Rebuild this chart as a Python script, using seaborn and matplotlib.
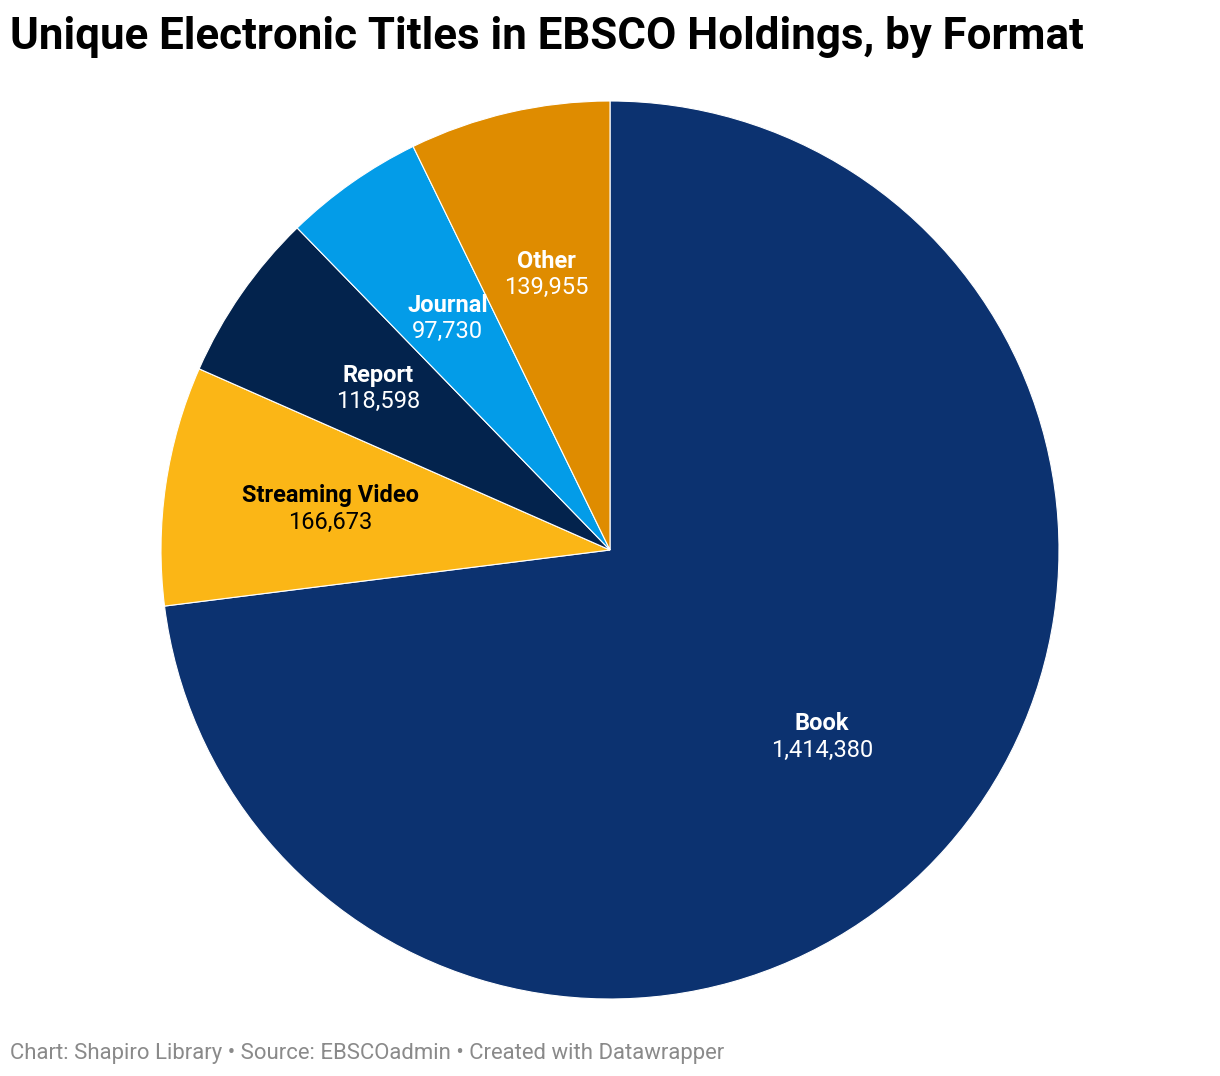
import matplotlib
matplotlib.use("Agg")
import matplotlib.pyplot as plt
import seaborn as sns
import numpy as np

categories = ["Book", "Streaming Video", "Report", "Journal", "Other"]
values = [1414380, 166673, 118598, 97730, 139955]
colors = ["#0c3270", "#fbb616", "#03234d", "#039ce8", "#df8c00"]
label_colors = ["white", "black", "white", "white", "white"]

sns.set_theme(style="white")
plt.rcParams['font.family'] = ['Roboto', 'DejaVu Sans']

W, H = 1220, 1076
fig = plt.figure(figsize=(W / 100, H / 100), dpi=100)
fig.patch.set_facecolor("white")

cx, cy, r = 610, 550, 449
ax = fig.add_axes([(cx - r) / W, (H - cy - r) / H, 2 * r / W, 2 * r / H])
wedges, _ = ax.pie(values, colors=colors, startangle=90, counterclock=False,
                   wedgeprops=dict(edgecolor="white", linewidth=0.8))
ax.set_aspect("equal")
ax.set_xlim(-1, 1)
ax.set_ylim(-1, 1)
ax.axis("off")

for w, cat, val, lc in zip(wedges, categories, values, label_colors):
    ang = np.deg2rad((w.theta1 + w.theta2) / 2)
    d = 0.63
    x, y = d * np.cos(ang), d * np.sin(ang)
    ax.text(x, y + 0.004, cat, ha="center", va="bottom", fontsize=17,
            fontweight="bold", color=lc)
    ax.text(x, y - 0.004, f"{val:,}", ha="center", va="top", fontsize=17,
            color=lc)

fig.text(10 / W, 1 - 37 / H, "Unique Electronic Titles in EBSCO Holdings, by Format",
         ha="left", va="center", fontsize=31.6, fontweight="bold", color="black")
fig.text(10 / W, 1 - 1053 / H,
         "Chart: Shapiro Library \u2022 Source: EBSCOadmin \u2022 Created with Datawrapper",
         ha="left", va="center", fontsize=15.9, color="#8a8a8a")

fig.savefig("out.png", dpi=100, facecolor="white")
